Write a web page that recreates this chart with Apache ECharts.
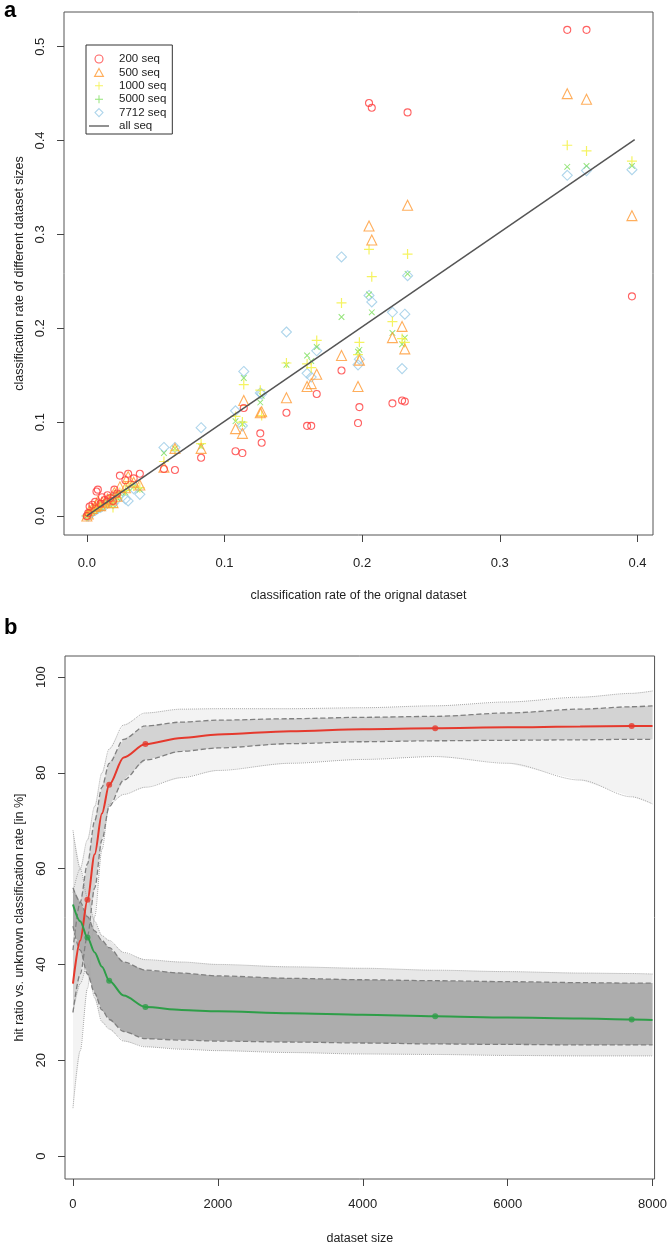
<!DOCTYPE html>
<html><head><meta charset="utf-8">
<script src="https://cdn.jsdelivr.net/npm/echarts@6/dist/echarts.min.js"></script>
<style>html,body{margin:0;padding:0;background:#fff}#c{width:670px;height:1246px}</style>
</head><body><div id="c"></div>
<script>
// ---------- Panel a data ----------
const origRate = [0.396,0.349,0.363,0.233,0.205,0.207,0.231,0.229,0.222,0.198,0.197,0.185,0.167,0.163,0.160,0.145,0.126,0.127,0.114,0.113,0.108,0.083,0.064,0.056,0.0385,0.030,0.028,0.024,0.020,0.019,0.015,0.011,0.008,0.007,0.006,0.004,0.002,0.001,0.000,0.010,0.013,0.017,0.022,0.034];
const rate200  = [0.234,0.518,0.518,0.430,0.440,0.435,0.122,0.123,0.120,0.116,0.099,0.155,0.130,0.096,0.096,0.110,0.088,0.078,0.115,0.067,0.069,0.062,0.049,0.050,0.045,0.045,0.038,0.043,0.028,0.016,0.022,0.020,0.028,0.026,0.015,0.012,0.010,0.003,0.000,0.013,0.017,0.019,0.024,0.040];
const rate500  = [0.320,0.450,0.444,0.331,0.309,0.294,0.178,0.202,0.190,0.166,0.138,0.171,0.151,0.141,0.138,0.126,0.110,0.111,0.123,0.088,0.093,0.072,0.072,0.052,0.033,0.042,0.030,0.031,0.025,0.014,0.018,0.015,0.016,0.012,0.010,0.008,0.006,0.002,0.000,0.011,0.014,0.017,0.021,0.036];
const rate1000 = [0.378,0.395,0.389,0.279,0.284,0.255,0.185,0.189,0.207,0.185,0.172,0.227,0.187,0.158,0.162,0.163,0.134,0.107,0.140,0.100,0.106,0.077,0.070,0.058,0.030,0.035,0.027,0.025,0.022,0.009,0.013,0.012,0.010,0.008,0.008,0.006,0.004,0.001,0.000,0.010,0.012,0.015,0.019,0.032];
const rate5000 = [0.373,0.372,0.373,0.258,0.236,0.217,0.190,0.183,0.195,0.177,0.175,0.212,0.180,0.165,0.171,0.161,0.121,0.128,0.147,0.098,0.101,0.074,0.072,0.067,0.028,0.030,0.025,0.024,0.021,0.012,0.015,0.011,0.009,0.007,0.007,0.005,0.003,0.001,0.000,0.009,0.012,0.016,0.019,0.031];
const rate7712 = [0.369,0.363,0.368,0.256,0.235,0.228,0.215,0.157,0.217,0.167,0.161,0.276,0.176,0.148,0.152,0.196,0.131,0.130,0.154,0.096,0.112,0.094,0.073,0.073,0.023,0.016,0.018,0.022,0.020,0.013,0.014,0.010,0.008,0.007,0.006,0.004,0.002,0.000,0.000,0.009,0.011,0.015,0.018,0.029];
const allSeqX = [0, 0.398];
const allSeqY = [0, 0.401];
const aTicksX = [0, 0.1, 0.2, 0.3, 0.4];
const aTicksY = [0, 0.1, 0.2, 0.3, 0.4, 0.5];

// ---------- Panel b data ----------
const sizeGrid   = [0,100,200,300,400,500,700,1000,1500,2000,3000,4000,5000,6000,7000,7712,8000];
const hitFit     = [36,45,53.5,63,71.5,77.5,83.2,86,87.3,88,88.7,89.1,89.3,89.5,89.7,89.8,89.8];
const hitDashHi  = [43,53,61,70,77,82,87,89.8,90.6,91,91.3,91.6,91.8,92.5,93.3,93.8,94.0];
const hitDashLo  = [30,38,46,56,66,73,78.5,82.7,84.5,85.2,86.1,86.5,86.7,86.8,86.9,87,87];
const hitDotHi   = [55,60,66,73,80,85,90,92.5,93.3,93.4,93.4,93.6,94.0,94.8,95.8,96.6,97.1];
const hitDotLo   = [10,22,35,50,64,73.5,75.5,77,79,80.5,82,82.8,83.4,82,78.5,75,73.5];
const unkFit     = [52.5,49,45.6,42.5,39.5,36.6,33.5,31.1,30.5,30.2,29.8,29.5,29.2,28.9,28.7,28.5,28.4];
const unkDashHi  = [56,53,50,47,45,43.5,40.5,38.8,38.2,37.6,37.1,36.8,36.6,36.4,36.2,36.1,36.1];
const unkDashLo  = [48,43,38,34,30.5,28.5,26,24.5,24.2,24,23.8,23.6,23.4,23.3,23.2,23.2,23.2];
const unkDotHi   = [68,60,54,49,46,45,42.5,41,40.5,40,39.5,39.2,38.8,38.5,38.2,38.1,38];
const unkDotLo   = [30,36,40,33,28,26.5,24,22.8,22.3,22,21.6,21.3,21.2,21,20.9,20.9,20.9];
const datasetSizes = [200,500,1000,5000,7712];
const hitRatio     = [53.5,77.5,86,89.3,89.8];
const unknownRate  = [45.6,36.6,31.1,29.2,28.5];
const bTicksX = [0,2000,4000,6000,8000];
const bTicksY = [0,20,40,60,80,100];

const FONT = '"Liberation Sans", Arial, sans-serif';
const chart = echarts.init(document.getElementById('c'), null, {renderer:'canvas'});

const zip = (xs, ys) => xs.map((x,i)=>[x, ys[i]]);
const plusPath = 'path://M4.4,0h1.2v4.4h4.4v1.2h-4.4v4.4h-1.2v-4.4h-4.4v-1.2h4.4z';
const circlePath = 'path://M5,0A5,5,0,1,1,4.999,0z';
const triPath = 'path://M5,0L10,9L0,9z';
const diaPath = 'path://M5,0L10,5L5,10L0,5z';
const linePath = 'path://M0,0h20v1.3h-20z';

function scatterA(name, ys, symbol, size, color, rot, hollow) {
  return {
    name, type:'scatter', xAxisIndex:0, yAxisIndex:0,
    data: zip(origRate, ys), symbol, symbolSize: size, symbolRotate: rot || 0,
    itemStyle: hollow ? {color:'rgba(0,0,0,0)', borderColor: color, borderWidth: 1.1} : {color: color},
    emphasis:{disabled:true}, z: 3
  };
}

function band(upper, lower, fill, z) {
  return {
    type:'custom', xAxisIndex:1, yAxisIndex:1, silent:true, z, clip:true,
    data:[[0,0]],
    renderItem: (params, api) => {
      const pts = [];
      for (let i=0;i<sizeGrid.length;i++) pts.push(api.coord([sizeGrid[i], upper[i]]));
      for (let i=sizeGrid.length-1;i>=0;i--) pts.push(api.coord([sizeGrid[i], lower[i]]));
      return {type:'polygon', shape:{points:pts}, style:{fill}};
    }
  };
}
function edge(vals, color, type, width, z) {
  return {
    type:'line', xAxisIndex:1, yAxisIndex:1, data: zip(sizeGrid, vals), showSymbol:false, symbol:'none',
    smooth:0.3, smoothMonotone:'x', silent:true, z,
    lineStyle:{color, type, width}
  };
}

function mkAxis(extra, ticks, labelExtra) {
  return Object.assign({
    type:'value',
    axisLine:{show:false, onZero:false},
    splitLine:{show:false},
    axisTick:{show:true, inside:false, length:7, lineStyle:{color:'#444'}, customValues:ticks},
    axisLabel:Object.assign({color:'#222', fontFamily:FONT, fontSize:13, customValues:ticks}, labelExtra),
    nameTextStyle:{color:'#222', fontFamily:FONT, fontSize:12.5}
  }, extra);
}

const option = {
  animation:false,
  backgroundColor:'#fff',
  grid:[
    {left:64, top:12, width:589, height:523, show:true, borderColor:'#555', borderWidth:1, backgroundColor:'transparent'},
    {left:65, top:656, width:590, height:524, show:true, borderColor:'#555', borderWidth:1, backgroundColor:'transparent'}
  ],
  xAxis:[
    mkAxis({gridIndex:0, min:-0.0166, max:0.4113, name:'classification rate of the orignal dataset', nameLocation:'middle', nameGap:54},
      aTicksX, {margin:22, formatter:v=>v.toFixed(1)}),
    mkAxis({gridIndex:1, min:-110, max:8028, name:'dataset size', nameLocation:'middle', nameGap:53},
      bTicksX, {margin:19, formatter:v=>String(v)})
  ],
  yAxis:[
    mkAxis({gridIndex:0, min:-0.0203, max:0.537, name:'classification rate of different dataset sizes', nameLocation:'middle', nameGap:38, nameRotate:90},
      aTicksY, {rotate:90, margin:17, formatter:v=>v.toFixed(1)}),
    mkAxis({gridIndex:1, min:-4.8, max:104.4, name:'hit ratio vs. unknown classification rate [in %]', nameLocation:'middle', nameGap:39, nameRotate:90},
      bTicksY, {rotate:90, margin:17, formatter:v=>String(v)})
  ],
  legend:{
    left:86, top:45, orient:'vertical', itemGap:1.4, itemWidth:20, itemHeight:8,
    padding:[8,6,2,3], borderColor:'#333', borderWidth:1, backgroundColor:'#fff', borderRadius:0,
    textStyle:{fontFamily:FONT, fontSize:11.5, color:'#222', lineHeight:12, padding:[0,0,0,5]},
    itemStyle:{borderWidth:1.1},
    data:[
      {name:'200 seq', icon:circlePath},
      {name:'500 seq', icon:triPath},
      {name:'1000 seq', icon:plusPath},
      {name:'5000 seq', icon:plusPath},
      {name:'7712 seq', icon:diaPath},
      {name:'all seq', icon:linePath}
    ],
    selectedMode:false
  },
  graphic:[
    {type:'text', left:4, top:0, style:{text:'a', font:'bold 22px '+FONT, fill:'#000'}},
    {type:'text', left:4, top:617, style:{text:'b', font:'bold 22px '+FONT, fill:'#000'}}
  ],
  series:[
    {name:'all seq', type:'line', xAxisIndex:0, yAxisIndex:0, data:zip(allSeqX, allSeqY), symbol:'none', showSymbol:false,
      lineStyle:{color:'#555', width:1.5}, itemStyle:{color:'#555'}, z:5, silent:true},
    scatterA('7712 seq', rate7712, 'diamond', 10, '#9ACBE6', 0, true),
    scatterA('5000 seq', rate5000, plusPath, 8, '#77DD55', 45, false),
    scatterA('1000 seq', rate1000, plusPath, 10, '#F2F03A', 0, false),
    scatterA('500 seq', rate500, 'triangle', 10, '#FF9A33', 0, true),
    scatterA('200 seq', rate200, 'circle', 7, '#FF3B3B', 0, true),

    band(hitDotHi, hitDotLo, '#F3F3F3', 1),
    band(unkDotHi, unkDotLo, '#E8E8E8', 1),
    band(hitDashHi, hitDashLo, '#D3D3D3', 2),
    band(unkDashHi, unkDashLo, '#ADADAD', 2),
    edge(hitDotHi, '#A8A8A8', 'dotted', 1, 3),
    edge(hitDotLo, '#A8A8A8', 'dotted', 1, 3),
    edge(unkDotHi, '#A8A8A8', 'dotted', 1, 3),
    edge(unkDotLo, '#A8A8A8', 'dotted', 1, 3),
    edge(hitDashHi, '#808080', 'dashed', 1.3, 3),
    edge(hitDashLo, '#808080', 'dashed', 1.3, 3),
    edge(unkDashHi, '#808080', 'dashed', 1.3, 3),
    edge(unkDashLo, '#808080', 'dashed', 1.3, 3),
    {type:'line', xAxisIndex:1, yAxisIndex:1, data:zip(sizeGrid, hitFit), symbol:'none', showSymbol:false,
      smooth:0.3, smoothMonotone:'x', lineStyle:{color:'#E5392D', width:2}, z:4, silent:true},
    {type:'line', xAxisIndex:1, yAxisIndex:1, data:zip(sizeGrid, unkFit), symbol:'none', showSymbol:false,
      smooth:0.3, smoothMonotone:'x', lineStyle:{color:'#2E9E48', width:2}, z:4, silent:true},
    {type:'scatter', xAxisIndex:1, yAxisIndex:1, data:zip(datasetSizes, hitRatio), symbol:'circle', symbolSize:6,
      itemStyle:{color:'#E5392D'}, z:5, silent:true},
    {type:'scatter', xAxisIndex:1, yAxisIndex:1, data:zip(datasetSizes, unknownRate), symbol:'circle', symbolSize:6,
      itemStyle:{color:'#2E9E48'}, z:5, silent:true}
  ]
};
chart.setOption(option);
</script></body></html>
